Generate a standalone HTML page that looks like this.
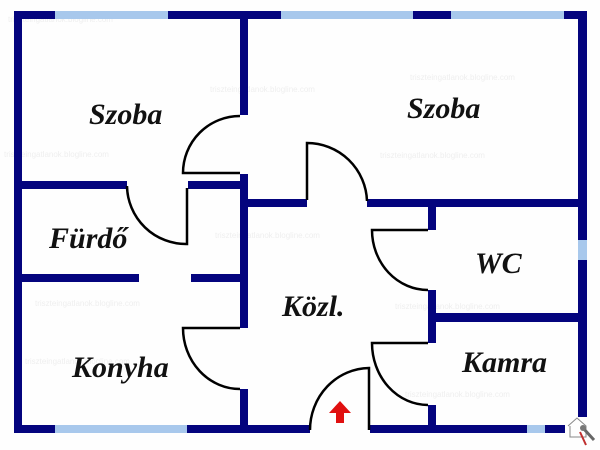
<!DOCTYPE html>
<html><head><meta charset="utf-8"><style>
html,body{margin:0;padding:0;background:#fff;width:600px;height:450px;overflow:hidden}
text.l{font-family:"Liberation Serif",serif;font-style:italic;font-weight:bold;font-size:30px;fill:#111}
text.w{font-family:"Liberation Sans",sans-serif;font-size:8px;fill:#efefef}
</style></head><body>
<svg width="600" height="450" viewBox="0 0 600 450" xmlns="http://www.w3.org/2000/svg">
<rect width="600" height="450" fill="#fefefe"/>
<g>
<text class="w" x="8" y="22">triszteingatlanok.blogline.com</text>
<text class="w" x="210" y="92">triszteingatlanok.blogline.com</text>
<text class="w" x="410" y="80">triszteingatlanok.blogline.com</text>
<text class="w" x="4" y="157">triszteingatlanok.blogline.com</text>
<text class="w" x="380" y="158">triszteingatlanok.blogline.com</text>
<text class="w" x="215" y="238">triszteingatlanok.blogline.com</text>
<text class="w" x="35" y="306">triszteingatlanok.blogline.com</text>
<text class="w" x="395" y="309">triszteingatlanok.blogline.com</text>
<text class="w" x="25" y="364">triszteingatlanok.blogline.com</text>
<text class="w" x="405" y="397">triszteingatlanok.blogline.com</text>
</g>
<g fill="#04047e">
<rect x="14" y="11" width="41" height="8"/>
<rect x="168" y="11" width="113" height="8"/>
<rect x="413" y="11" width="38" height="8"/>
<rect x="564" y="11" width="23" height="8"/>
<rect x="14" y="11" width="8" height="422"/>
<rect x="578" y="11" width="9" height="229"/>
<rect x="578" y="260" width="9" height="157"/>
<rect x="14" y="425" width="41" height="8"/>
<rect x="187" y="425" width="123" height="8"/>
<rect x="370" y="425" width="157" height="8"/>
<rect x="545" y="425" width="20" height="8"/>
<rect x="240" y="11" width="8" height="104"/>
<rect x="240" y="174" width="8" height="154"/>
<rect x="240" y="389" width="8" height="44"/>
<rect x="14" y="181" width="113" height="8"/>
<rect x="188" y="181" width="52" height="8"/>
<rect x="14" y="274" width="125" height="8"/>
<rect x="191" y="274" width="49" height="8"/>
<rect x="248" y="199" width="59" height="8"/>
<rect x="367" y="199" width="220" height="8"/>
<rect x="428" y="207" width="8" height="23"/>
<rect x="428" y="290" width="8" height="53"/>
<rect x="428" y="405" width="8" height="28"/>
<rect x="436" y="313" width="144" height="9"/>
</g>
<g fill="#a8c8ec">
<rect x="55" y="11" width="113" height="8"/>
<rect x="281" y="11" width="132" height="8"/>
<rect x="451" y="11" width="113" height="8"/>
<rect x="578" y="240" width="9" height="20"/>
<rect x="55" y="425" width="132" height="8"/>
<rect x="527" y="425" width="18" height="8"/>
</g>
<g fill="none" stroke="#000" stroke-width="2.5">
<path d="M240 116 A57 57 0 0 0 183 173 H240"/>
<path d="M127 186 A59 59 0 0 0 187 244 V188"/>
<path d="M307 200 V143 A60 60 0 0 1 367 201"/>
<path d="M428 230 H372 A56 60 0 0 0 428 290"/>
<path d="M428 343 H372 A56 62 0 0 0 428 405"/>
<path d="M240 328 H183 A57 61 0 0 0 240 389"/>
<path d="M310 430 A60 62 0 0 1 369 368 V430"/>
</g>
<path d="M340 401 L329 413 L336 413 L336 423 L344 423 L344 413 L351 413 Z" fill="#e01010"/>
<g fill="none" stroke="#888" stroke-width="1">
<path d="M568 426 L577 418 L586 426 V437 H570 V426"/>
</g>
<path d="M583 428 L594 440" stroke="#666" stroke-width="3"/>
<circle cx="583" cy="428" r="3" fill="#777"/>
<path d="M580 432 L586 445" stroke="#c03030" stroke-width="2"/>
<text class="l" x="89" y="124">Szoba</text>
<text class="l" x="407" y="118">Szoba</text>
<text class="l" x="49" y="248">Fürdő</text>
<text class="l" x="72" y="377">Konyha</text>
<text class="l" x="282" y="316">Közl.</text>
<text class="l" x="475" y="273">WC</text>
<text class="l" x="462" y="372">Kamra</text>
</svg>
</body></html>
